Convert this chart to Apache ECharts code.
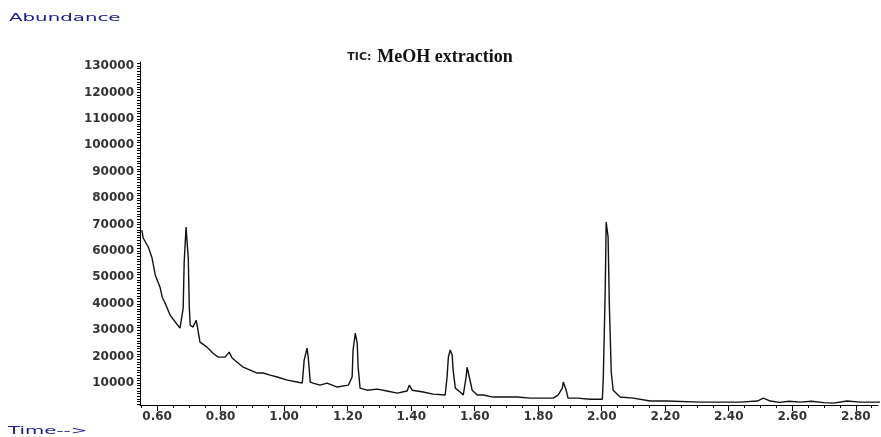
<!DOCTYPE html>
<html>
<head>
<meta charset="utf-8">
<script src="https://cdn.jsdelivr.net/npm/echarts@6/dist/echarts.min.js"></script>
<style>
  html, body { margin: 0; padding: 0; background: #fff; }
  #chart { width: 881px; height: 437px; }
</style>
</head>
<body>
<div id="chart"></div>
<script>
// retention time (min)
const times = [
  0.552, 0.556, 0.572, 0.584, 0.594, 0.609, 0.616, 0.625, 0.641, 0.657,
  0.672, 0.682, 0.685, 0.691, 0.694, 0.698, 0.701, 0.704, 0.713, 0.723,
  0.729, 0.735, 0.757, 0.776, 0.792, 0.814, 0.827, 0.836, 0.852, 0.871,
  0.893, 0.915, 0.934, 0.956, 0.978, 1.010, 1.041, 1.057, 1.063, 1.072,
  1.076, 1.082, 1.091, 1.113, 1.135, 1.167, 1.202, 1.214, 1.217, 1.224,
  1.230, 1.233, 1.239, 1.261, 1.293, 1.324, 1.356, 1.387, 1.394, 1.403,
  1.438, 1.469, 1.507, 1.513, 1.517, 1.523, 1.529, 1.532, 1.539, 1.554,
  1.564, 1.573, 1.576, 1.583, 1.592, 1.608, 1.627, 1.658, 1.690, 1.734,
  1.775, 1.806, 1.847, 1.863, 1.876, 1.879, 1.888, 1.894, 1.923, 1.964,
  2.002, 2.005, 2.011, 2.014, 2.020, 2.024, 2.030, 2.036, 2.058, 2.099,
  2.153, 2.206, 2.310, 2.436, 2.490, 2.509, 2.531, 2.560, 2.590, 2.625,
  2.660, 2.700, 2.729, 2.773, 2.814, 2.877
];
// abundance at each time
const abundance = [
  67900, 64900, 61500, 57300, 50900, 46300, 42500, 40300, 35700, 33100,
  30800, 38400, 55400, 69000, 69000, 57300, 39500, 31900, 31200, 33800,
  33100, 25500, 23600, 21300, 19800, 19800, 21700, 19500, 17900, 16000,
  14900, 13800, 13800, 13000, 12300, 11100, 10400, 10000, 18700, 23200,
  19500, 10400, 10000, 9200, 10000, 8500, 9200, 12300, 22500, 28900,
  25100, 16000, 8100, 7300, 7700, 7000, 6200, 7000, 9200, 7300,
  6600, 5800, 5500, 12300, 19800, 22500, 20600, 14900, 8100, 6600,
  5500, 12300, 16000, 12300, 7300, 5500, 5500, 4700, 4700, 4700,
  4300, 4300, 4300, 5500, 8100, 10400, 7300, 4300, 4300, 3900,
  3900, 12300, 45200, 70900, 65300, 39500, 14200, 7300, 4700, 4300,
  3200, 3200, 2800, 2800, 3200, 4300, 3200, 2700, 3100, 2800,
  3100, 2600, 2400, 3200, 2800, 2800
];

const xLabels = [0.6, 0.8, 1.0, 1.2, 1.4, 1.6, 1.8, 2.0, 2.2, 2.4, 2.6, 2.8];
const yLabels = [10000, 20000, 30000, 40000, 50000, 60000, 70000,
  80000, 90000, 100000, 110000, 120000, 130000];

const xMinorTicks = [];
for (let i = 11; i <= 57; i++) xMinorTicks.push(i * 0.05);
const yTicks = [];
for (let v = 2000; v <= 131000; v += 1000) yTicks.push(v);

const chart = echarts.init(document.getElementById('chart'));

const labelFont = {
  color: '#333',
  fontFamily: 'DejaVu Sans',
  fontWeight: 'bold',
  fontSize: 12
};

const option = {
  animation: false,
  backgroundColor: '#fff',
  title: {
    text: '{a|TIC: }{b|MeOH extraction}',
    left: 425,
    textAlign: 'center',
    top: 43,
    textStyle: {
      rich: {
        a: { fontFamily: 'DejaVu Sans', fontSize: 11, color: '#222', padding: [0, 2, 0, 0] },
        b: { fontFamily: 'Liberation Serif', fontWeight: 'bold', fontSize: 18, color: '#111' }
      }
    }
  },
  graphic: [
    {
      type: 'text', left: 9, top: 13, scaleX: 1.8, scaleY: 1,
      style: { text: 'Abundance', fill: '#1c1c8c', font: '11px "DejaVu Sans"' }
    },
    {
      type: 'text', left: 8, top: 426, scaleX: 1.8, scaleY: 1,
      style: { text: 'Time-->', fill: '#1c1c8c', font: '11px "DejaVu Sans"' }
    }
  ],
  grid: { left: 140, top: 62, right: 3, bottom: 32 },
  xAxis: [
    {
      type: 'value',
      min: 0.546,
      max: 2.87,
      axisLine: { lineStyle: { color: '#000', width: 1 } },
      axisTick: { customValues: xLabels, length: 6, lineStyle: { color: '#000' } },
      axisLabel: Object.assign({
        customValues: xLabels,
        margin: 6,
        formatter: (v) => v.toFixed(2)
      }, labelFont),
      splitLine: { show: false }
    },
    {
      type: 'value',
      position: 'bottom',
      offset: 0,
      min: 0.546,
      max: 2.87,
      axisLine: { show: false },
      axisTick: { customValues: xMinorTicks, length: 3, lineStyle: { color: '#000' } },
      axisLabel: { show: false },
      splitLine: { show: false }
    }
  ],
  yAxis: {
    type: 'value',
    min: 1700,
    max: 131500,
    axisLine: { show: true, lineStyle: { color: '#000', width: 1 } },
    axisTick: { customValues: yTicks, length: 3, lineStyle: { color: '#000' } },
    axisLabel: Object.assign({
      customValues: yLabels,
      margin: 6,
      formatter: (v) => String(v)
    }, labelFont),
    splitLine: { show: false }
  },
  series: [
    {
      type: 'line',
      data: times.map((t, i) => [t, abundance[i]]),
      showSymbol: false,
      lineStyle: { color: '#111', width: 1.4 }
    }
  ]
};

chart.setOption(option);
</script>
</body>
</html>
